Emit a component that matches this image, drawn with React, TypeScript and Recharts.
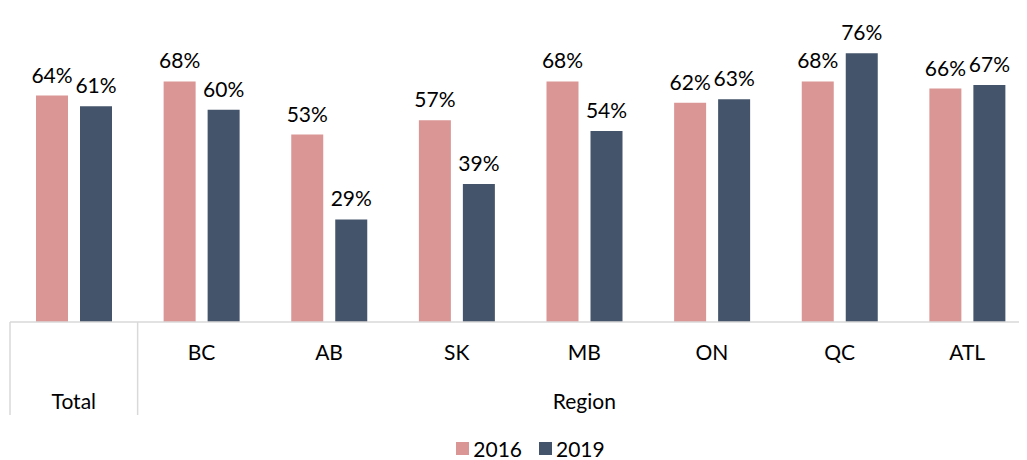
import React from "react";
import { BarChart, Bar, XAxis, YAxis, LabelList } from "recharts";

const categories = ["Total", "BC", "AB", "SK", "MB", "ON", "QC", "ATL"];
const groups = ["Total", "Region", "Region", "Region", "Region", "Region", "Region", "Region"];
const values2016 = [64, 68, 53, 57, 68, 62, 68, 66];
const values2019 = [61, 60, 29, 39, 54, 63, 76, 67];
const seriesNames = ["2016", "2019"];

const PINK = "#DA9694";
const NAVY = "#44546A";
const GRID = "#D9D9D9";
const FONT = "Lato, 'Open Sans', sans-serif";

const data = categories.map((name, i) => ({
  name,
  group: groups[i],
  y2016: values2016[i],
  y2019: values2019[i],
}));

function CategoryTick(props: any) {
  const { x, y, payload, index } = props;
  const half = payload?.offset ?? 64;
  const cat = payload.value as string;
  const group = groups[index];
  const firstOfGroup = index === 0 || groups[index - 1] !== group;
  const groupSize = groups.filter((g) => g === group).length;
  const isLast = index === categories.length - 1;
  const showCat = cat !== group;
  return (
    <g>
      {firstOfGroup && (
        <line x1={x - half} x2={x - half} y1={y} y2={y + 93} stroke={GRID} strokeWidth={1.5} />
      )}
      {isLast && (
        <line x1={x + half} x2={x + half} y1={y} y2={y + 93} stroke={GRID} strokeWidth={1.5} />
      )}
      {showCat && (
        <text x={x} y={y + 38} textAnchor="middle" fontSize={21} fill="#000" fontFamily={FONT}>
          {cat}
        </text>
      )}
      {firstOfGroup && (
        <text
          x={x - half + groupSize * half}
          y={y + 87}
          textAnchor="middle"
          fontSize={21}
          fill="#000"
          fontFamily={FONT}
        >
          {group}
        </text>
      )}
    </g>
  );
}

export default function App() {
  return (
    <div
      style={{
        margin: "-8px 0 0 -8px",
        width: 1027,
        height: 460,
        overflow: "hidden",
        position: "relative",
        background: "#fff",
      }}
    >
      <BarChart
        width={1031}
        height={425}
        data={data}
        margin={{ top: 39, right: 0, left: 10, bottom: 0 }}
        barGap={12}
        barCategoryGap={0}
      >
        <XAxis
          dataKey="name"
          interval={0}
          tickLine={false}
          tickSize={0}
          tickMargin={0}
          axisLine={{ stroke: GRID, strokeWidth: 1.5 }}
          height={103}
          tick={<CategoryTick />}
        />
        <YAxis hide domain={[0, 80]} />
        <Bar dataKey="y2016" name={seriesNames[0]} fill={PINK} barSize={32} isAnimationActive={false}>
          <LabelList
            dataKey="y2016"
            position="top"
            offset={13}
            formatter={(v: any) => `${v}%`}
            style={{ fontSize: 21, fill: "#000", fontFamily: FONT }}
          />
        </Bar>
        <Bar dataKey="y2019" name={seriesNames[1]} fill={NAVY} barSize={32} isAnimationActive={false}>
          <LabelList
            dataKey="y2019"
            position="top"
            offset={13}
            formatter={(v: any) => `${v}%`}
            style={{ fontSize: 21, fill: "#000", fontFamily: FONT }}
          />
        </Bar>
      </BarChart>
      <div
        style={{
          position: "absolute",
          top: 438,
          left: 34,
          width: 993,
          display: "flex",
          justifyContent: "center",
          gap: 17,
          fontFamily: FONT,
          fontSize: 21,
          lineHeight: "21px",
          color: "#000",
        }}
      >
        {seriesNames.map((s, i) => (
          <span key={s} style={{ display: "flex", alignItems: "center", gap: 4 }}>
            <span style={{ width: 13, height: 13, background: i === 0 ? PINK : NAVY, display: "inline-block" }} />
            {s}
          </span>
        ))}
      </div>
    </div>
  );
}
